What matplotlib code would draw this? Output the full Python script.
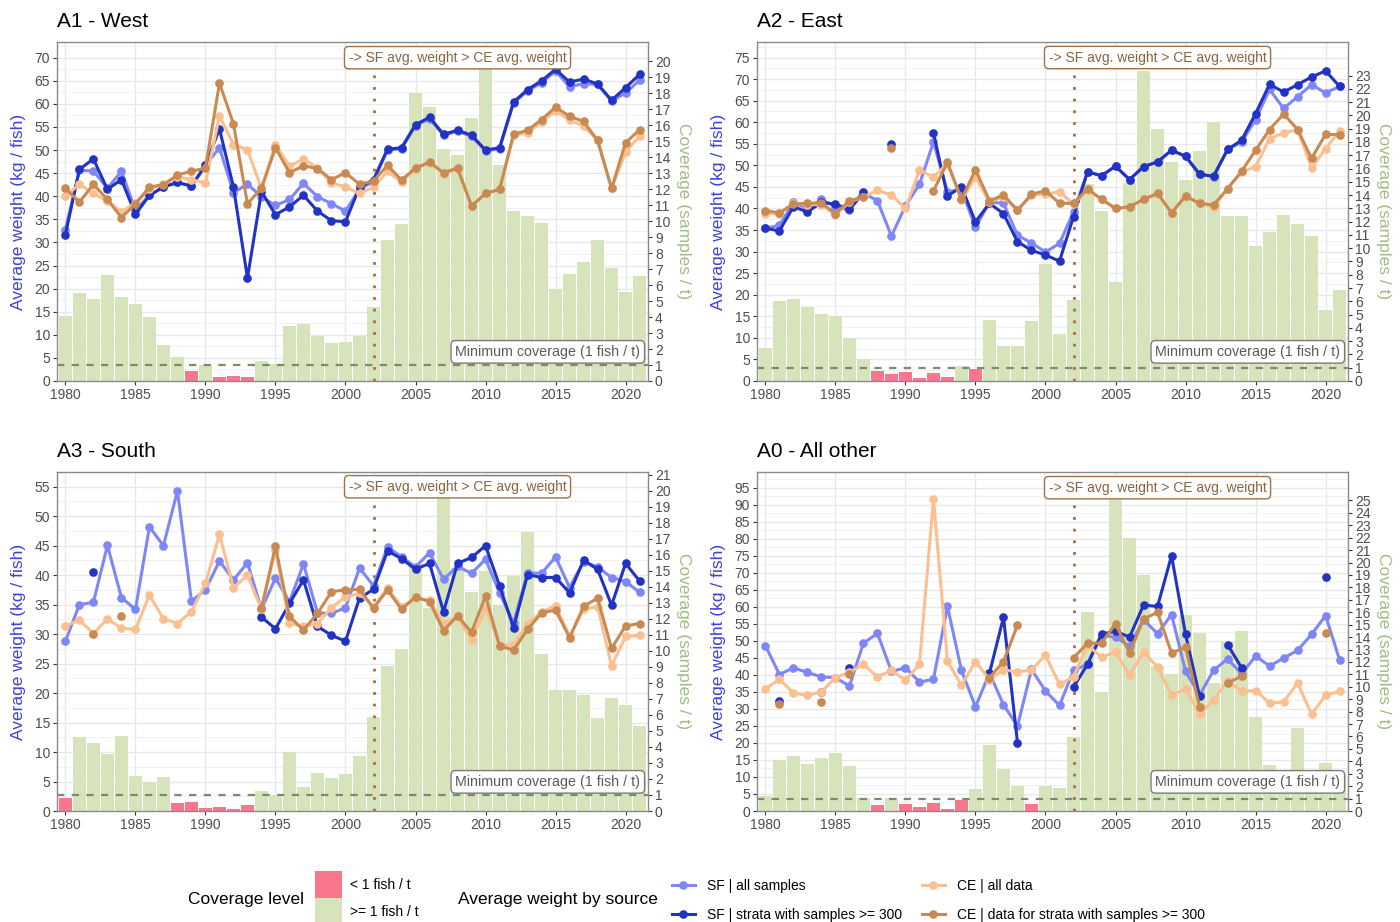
import numpy as np
import matplotlib.pyplot as plt
from matplotlib.patches import Patch
from matplotlib.lines import Line2D

plt.rcParams['font.family'] = ['Liberation Sans', 'DejaVu Sans']

nan = np.nan
years = np.arange(1980, 2022)

# ---- A1 - West ----
a1_sf_all = [32.8, 45.6, 45.5, 41.7, 45.4, 37.0, 40.2, 42.0, 43.0, 42.2, 46.7, 50.5, 40.8, 42.6, 39.9,
             38.0, 39.3, 42.8, 39.9, 38.4, 36.8, 41.5, 43.2, 50.0, 50.3, 55.3, 56.8, 53.2, 54.1, 53.0,
             49.8, 50.3, 60.2, 62.8, 64.6, 67.1, 63.7, 64.4, 64.2, 60.6, 62.4, 65.1]
a1_sf_strata = [31.7, 45.8, 48.1, 41.5, 43.6, 36.1, 40.2, 42.0, 43.0, 42.2, 46.7, 54.6, 42.0, 22.3, 41.0,
                36.0, 37.7, 40.2, 36.8, 34.7, 34.5, 42.0, 43.6, 50.2, 50.5, 55.5, 57.1, 53.4, 54.3, 53.2,
                50.0, 50.5, 60.4, 63.1, 65.0, 67.5, 64.7, 65.4, 64.3, 60.8, 63.5, 66.4]
a1_ce_all = [40.0, 42.6, 40.6, 39.0, 36.6, 38.6, 41.6, 42.6, 44.2, 43.6, 42.9, 57.4, 51.2, 50.1, 41.7,
             51.2, 46.5, 48.1, 46.1, 42.9, 42.0, 40.6, 42.0, 45.4, 43.1, 46.0, 47.2, 44.9, 45.8, 37.9,
             40.6, 41.5, 53.2, 53.7, 56.1, 58.5, 56.5, 55.2, 52.1, 41.7, 49.6, 53.0]
a1_ce_strata = [41.7, 38.7, 42.6, 39.3, 35.4, 38.3, 42.0, 42.5, 44.6, 45.4, 46.1, 64.5, 55.7, 38.4, 41.7,
                50.5, 45.1, 46.6, 46.0, 43.6, 45.1, 42.6, 43.3, 46.7, 43.5, 46.1, 47.4, 45.1, 46.1, 37.9,
                40.6, 41.5, 53.4, 54.3, 56.6, 59.3, 57.3, 56.2, 52.1, 41.7, 51.6, 54.4]
a1_coverage = [4.06, 5.52, 5.12, 6.65, 5.25, 4.81, 3.98, 2.23, 1.50, 0.60, 1.02, 0.23, 0.29, 0.23, 1.25,
               1.08, 3.44, 3.54, 2.79, 2.40, 2.44, 2.81, 4.65, 8.81, 9.83, 18.04, 17.15, 14.52, 14.15, 16.48,
               19.5, 13.5, 10.63, 10.31, 9.86, 5.75, 6.69, 7.46, 8.85, 7.04, 5.58, 6.56]

# ---- A2 - East ----
a2_sf_all = [35.4, 36.1, 41.4, 40.0, 42.1, 40.4, 39.6, 43.6, 41.8, 33.6, 40.6, 45.6, 55.4, 43.9, 44.4,
             35.6, 41.5, 41.2, 33.8, 32.0, 29.9, 31.9, 39.2, 48.5, 47.6, 49.8, 46.7, 49.7, 50.8, 53.5,
             52.1, 48.1, 47.3, 53.7, 55.4, 60.6, 67.6, 63.2, 65.9, 68.7, 66.8, 68.3]
a2_sf_strata = [35.4, 34.8, 40.4, 39.2, 41.4, 41.0, 39.8, 43.9, nan, 55.0, nan, nan, 57.5, 42.9, 45.0,
                36.9, 41.2, 38.8, 32.3, 30.3, 29.2, 27.8, 38.1, 48.5, 47.6, 49.8, 46.7, 49.7, 50.8, 53.5,
                52.1, 47.9, 47.5, 53.7, 55.8, 62.0, 68.8, 67.0, 68.7, 70.5, 71.9, 68.3]
a2_ce_all = [38.8, 38.8, 41.2, 40.9, 40.9, 38.5, 41.5, 42.7, 44.2, 43.1, 40.0, 48.9, 47.3, 50.4, 41.9,
             47.3, 41.5, 42.7, 39.6, 43.1, 43.3, 43.9, 41.0, 44.2, 42.3, 40.0, 40.4, 42.1, 43.3, 39.0,
             42.7, 41.2, 40.4, 44.6, 48.5, 49.7, 56.2, 57.5, 58.3, 49.4, 53.9, 57.9]
a2_ce_strata = [39.5, 39.0, 41.0, 41.2, 41.3, 38.8, 41.8, 42.7, nan, 54.1, nan, nan, 44.1, 50.7, 42.1,
                49.0, 41.8, 43.1, 39.6, 43.3, 44.1, 41.2, 41.2, 44.6, 42.1, 40.0, 40.4, 42.1, 43.5, 39.0,
                42.9, 41.2, 40.8, 44.6, 48.6, 53.5, 58.3, 61.9, 58.3, 51.6, 57.2, 57.1]
a2_coverage = [2.47, 6.04, 6.16, 5.58, 5.05, 4.91, 3.22, 1.69, 0.75, 0.53, 0.65, 0.25, 0.58, 0.30, 1.13,
               0.88, 4.63, 2.67, 2.67, 4.55, 8.83, 3.57, 6.11, 14.86, 12.8, 7.47, 14.9, 23.35, 19.0, 16.5,
               15.1, 17.3, 19.5, 12.4, 12.4, 10.2, 11.2, 12.5, 11.85, 10.94, 5.31, 6.87]

# ---- A3 - South ----
a3_sf_all = [28.8, 35.0, 35.4, 45.05, 36.2, 34.2, 48.2, 45.0, 54.3, 35.6, 37.5, 42.4, 39.2, 42.1, 34.2,
             39.5, 35.5, 41.9, 33.6, 33.5, 34.5, 41.2, 38.2, 44.8, 43.1, 41.4, 43.8, 39.3, 41.5, 40.3,
             42.7, 37.0, 31.9, 40.4, 40.3, 43.1, 37.9, 42.3, 41.4, 39.6, 38.9, 37.1]
a3_sf_strata = [nan, nan, 40.5, nan, nan, nan, nan, nan, nan, nan, nan, nan, nan, nan, 32.9,
                30.9, 35.2, 39.2, 31.3, 29.8, 28.8, 36.1, 37.6, 44.1, 42.8, 41.0, 42.0, 33.8, 42.0, 43.0,
                45.0, 38.2, 31.1, 40.1, 39.6, 39.6, 37.0, 42.5, 41.0, 34.9, 42.0, 39.0]
a3_ce_all = [31.4, 32.4, 30.1, 32.6, 31.0, 30.8, 36.6, 32.6, 31.8, 33.8, 38.6, 46.9, 37.9, 40.0, 34.2,
             44.3, 31.9, 31.3, 31.8, 34.5, 36.3, 36.9, 34.65, 37.8, 34.65, 36.1, 35.8, 31.8, 33.0, 29.0,
             34.4, 28.2, 28.2, 31.7, 33.8, 34.8, 29.6, 34.2, 34.65, 24.6, 29.6, 29.8]
a3_ce_strata = [nan, nan, 30.1, nan, 33.0, nan, nan, nan, nan, nan, nan, nan, nan, nan, 34.4,
                44.9, 33.0, 30.7, 33.5, 37.2, 37.5, 37.6, 34.4, 37.5, 34.2, 36.3, 35.5, 30.6, 33.1, 30.3,
                36.5, 28.0, 27.3, 30.8, 33.6, 34.1, 29.4, 34.7, 36.1, 27.6, 31.4, 31.8]
a3_coverage = [0.83, 4.61, 4.24, 3.57, 4.69, 2.21, 1.82, 2.15, 0.48, 0.56, 0.17, 0.23, 0.10, 0.38, 1.23,
               1.0, 3.67, 1.50, 2.36, 2.09, 2.32, 3.46, 5.9, 9.03, 10.1, 15.4, 12.7, 20.0, 15.2, 13.7,
               15.0, 12.9, 14.7, 17.4, 9.8, 7.57, 7.57, 7.26, 5.8, 7.05, 6.6, 5.32]

# ---- A0 - All other ----
a0_sf_all = [48.6, 40.1, 42.1, 40.7, 39.4, 39.2, 36.7, 49.3, 52.2, 41.0, 42.1, 37.9, 38.7, 60.1, 41.3,
             30.6, 40.5, 31.25, 24.9, 41.6, 35.25, 31.0, 41.3, 43.1, 51.6, 51.1, 48.4, 56.2, 52.1, 57.7,
             41.1, 34.0, 41.3, 44.7, 40.3, 45.5, 42.6, 44.9, 47.2, 51.9, 57.4, 44.4]
a0_sf_strata = [nan, 32.2, nan, nan, 35.0, nan, 42.1, nan, nan, nan, nan, nan, nan, nan, nan,
                nan, 40.5, 56.9, 20.1, nan, nan, nan, 36.4, 43.1, 52.0, 52.8, 51.1, 60.5, 60.1, 75.0,
                51.9, 33.7, nan, 48.9, 42.1, nan, nan, nan, nan, nan, 68.8, nan]
a0_ce_all = [35.9, 38.7, 34.7, 34.0, 35.0, 39.2, 40.8, 43.1, 39.4, 41.3, 38.4, 43.1, 91.6, 44.0, 36.9,
             43.9, 38.6, 41.5, 40.8, 41.5, 45.7, 37.2, 39.4, 48.8, 45.2, 46.7, 40.0, 46.7, 42.3, 34.0,
             35.9, 28.4, 32.7, 38.2, 35.2, 35.4, 31.7, 32.0, 37.6, 28.4, 34.0, 35.2]
a0_ce_strata = [nan, 31.5, nan, nan, 32.0, nan, 40.3, nan, nan, nan, nan, nan, nan, nan, nan,
                nan, 39.2, 43.9, 54.6, nan, nan, nan, 45.0, 49.3, 49.3, 55.0, 46.4, 56.4, 58.4, 46.4,
                48.1, 30.6, nan, 37.6, 39.6, nan, nan, nan, nan, nan, 52.2, nan]
a0_coverage = [1.23, 4.13, 4.43, 3.76, 4.3, 4.67, 3.63, 1.01, 0.48, 1.07, 0.56, 0.29, 0.67, 0.13, 0.88,
               1.79, 5.28, 3.36, 2.03, 0.56, 2.03, 1.86, 5.95, 16.0, 9.6, 25.1, 22.0, 19.0, 11.7, 11.0,
               15.8, 14.3, 10.3, 13.6, 14.5, 7.55, 3.73, 2.88, 6.67, 3.23, 3.87, 2.96]

# colours
COL_SF_ALL = '#7f86f7'
COL_SF_STRATA = '#2233c4'
COL_CE_ALL = '#fbbf90'
COL_CE_STRATA = '#c98a52'
COL_LOW = '#f9768c'
COL_OK = '#d6e3bb'
COL_REF = '#a07048'
COL_MIN = '#7d8a6c'
COL_LEFT_TITLE = '#4040d6'
COL_RIGHT_TITLE = '#a3bb85'
COL_TEXT = '#4d4d4d'

fig = plt.figure(figsize=(14, 9.22), dpi=100)


def draw_panel(rect, title, sf_all, sf_strata, ce_all, ce_strata, coverage, y_top, y_tick_top, cov_tick_top):
    ax = fig.add_axes(rect)
    series = [np.asarray(s, float) for s in (sf_all, sf_strata, ce_all, ce_strata)]
    coverage = np.asarray(coverage, float)
    # coverage is drawn on the weight scale, max coverage aligned with max weight
    scale = np.nanmax(np.concatenate(series)) / coverage.max()

    colors = np.where(coverage < 1, COL_LOW, COL_OK)
    ax.bar(years, coverage * scale, width=0.9, color=colors, zorder=1)
    ax.axhline(1 * scale, color=COL_MIN, lw=1.6, ls=(0, (3.3, 3.3)), zorder=2)
    ax.axvline(2002, color=COL_REF, lw=2, ls=(0, (1, 3.2)), zorder=2)

    styles = [(COL_SF_ALL, 3), (COL_SF_STRATA, 4), (COL_CE_ALL, 5), (COL_CE_STRATA, 6)]
    for values, (col, z) in zip(series, styles):
        ax.plot(years, values, color=col, lw=2.2, marker='o', ms=5.2, zorder=z)

    ax.text(2008, y_tick_top, '-> SF avg. weight > CE avg. weight', ha='center', va='center',
            fontsize=10, color='#8a6442', zorder=10,
            bbox=dict(boxstyle='round,pad=0.3,rounding_size=0.3', fc='white', ec=COL_REF, lw=1))
    ax.text(2021.05, 0.086, 'Minimum coverage (1 fish / t)', ha='right', va='center',
            transform=ax.get_xaxis_transform(), fontsize=10.3, color='#5a5a5a', zorder=10,
            bbox=dict(boxstyle='round,pad=0.3,rounding_size=0.3', fc='white', ec='#7a7a7a', lw=1))

    ax.set_xlim(1979.4, 2021.6)
    ax.set_ylim(0, y_top)
    ax.set_xticks(np.arange(1980, 2021, 5))
    ax.set_yticks(np.arange(0, y_tick_top + 1, 5))
    ax.set_yticks(np.arange(2.5, y_top, 5), minor=True)
    ax.set_axisbelow(True)
    ax.grid(which='major', color='#e8e8e8', lw=1.0)
    ax.grid(which='minor', axis='y', color='#f1f1f1', lw=0.8)
    ax.tick_params(which='major', length=3, width=0.8, color='#333333', labelcolor=COL_TEXT,
                   labelsize=10, pad=2)
    ax.tick_params(which='minor', length=0)
    for sp in ax.spines.values():
        sp.set_color('#8a8a8a')
        sp.set_linewidth(1.0)

    ax.set_ylabel('Average weight (kg / fish)', color=COL_LEFT_TITLE, fontsize=12.5, va='center')
    ax.yaxis.set_label_coords(-38 / 591, 0.5)

    sec = ax.secondary_yaxis('right', functions=(lambda v: v / scale, lambda v: v * scale))
    sec.set_yticks(np.arange(0, cov_tick_top + 1))
    sec.tick_params(length=3, width=0.8, color='#333333', labelcolor=COL_TEXT, labelsize=10, pad=2)
    sec.spines['right'].set_visible(False)
    ax.text(1 + 35 / 591, 0.5, 'Coverage (samples / t)', transform=ax.transAxes, rotation=270,
            ha='center', va='center', color=COL_RIGHT_TITLE, fontsize=12.5)

    ax.annotate(title, xy=(0, 1), xycoords='axes fraction', xytext=(0, 15),
                textcoords='offset points', ha='left', va='center', fontsize=15)
    return ax


W, H = 1400, 922
pw, ph = 591 / W, 339 / H
draw_panel([57 / W, 1 - 381 / H, pw, ph], 'A1 - West',
           a1_sf_all, a1_sf_strata, a1_ce_all, a1_ce_strata, a1_coverage, 73.4, 70, 20)
draw_panel([757 / W, 1 - 381 / H, pw, ph], 'A2 - East',
           a2_sf_all, a2_sf_strata, a2_ce_all, a2_ce_strata, a2_coverage, 78.6, 75, 23)
draw_panel([57 / W, 1 - 811 / H, pw, ph], 'A3 - South',
           a3_sf_all, a3_sf_strata, a3_ce_all, a3_ce_strata, a3_coverage, 57.5, 55, 21)
draw_panel([757 / W, 1 - 811 / H, pw, ph], 'A0 - All other',
           a0_sf_all, a0_sf_strata, a0_ce_all, a0_ce_strata, a0_coverage, 99.6, 95, 25)

# ---- legends ----
fig.text(188 / W, 1 - 899 / H, 'Coverage level', fontsize=12.5, ha='left', va='center')
fig.legend(handles=[Patch(fc=COL_LOW, ec='none'), Patch(fc=COL_OK, ec='none')],
           labels=['< 1 fish / t', '>= 1 fish / t'], loc='upper left',
           bbox_to_anchor=(315 / W, 1 - 871 / H), frameon=False, fontsize=10,
           handlelength=1.95, handleheight=2.61, labelspacing=0, handletextpad=0.55,
           borderpad=0, borderaxespad=0)

fig.text(458 / W, 1 - 899 / H, 'Average weight by source', fontsize=12.5, ha='left', va='center')


def line_key(col):
    return Line2D([], [], color=col, lw=2.2, marker='o', ms=5.2)


for x0, cols, labels in [(672, (COL_SF_ALL, COL_SF_STRATA),
                          ('SF | all samples', 'SF | strata with samples >= 300')),
                         (922, (COL_CE_ALL, COL_CE_STRATA),
                          ('CE | all data', 'CE | data for strata with samples >= 300'))]:
    fig.legend(handles=[line_key(c) for c in cols], labels=list(labels), loc='upper left',
               bbox_to_anchor=(x0 / W, 1 - 879 / H), frameon=False, fontsize=10,
               handlelength=1.65, handleheight=0.7, labelspacing=1.08, handletextpad=0.85,
               borderpad=0, borderaxespad=0)

fig.savefig('out.png', dpi=100)
